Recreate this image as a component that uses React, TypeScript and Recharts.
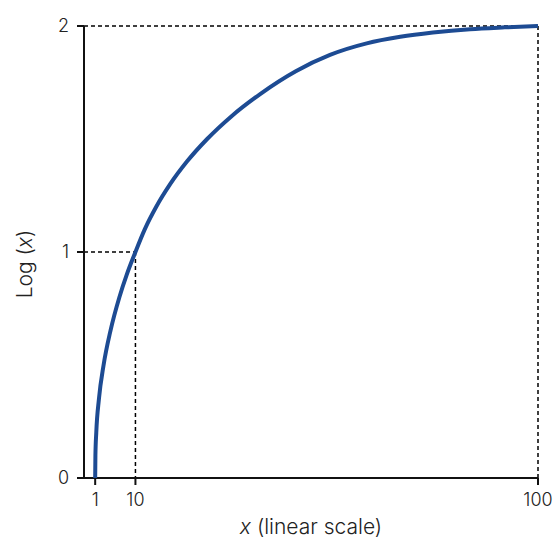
import { LineChart, Line, XAxis, YAxis, ReferenceLine, Label } from 'recharts'

// values
const xValues = [1, 1.05, 1.24, 1.84, 2.88, 4.4, 6.41, 8.06, 10, 12.08, 14.65, 17.76, 21.51, 26.03, 31.43, 37.96, 45.85, 53.5, 61.7, 69.2, 76.5, 84.8, 92.6, 100]
const logValues = [0, 0.1, 0.2, 0.35, 0.5, 0.65, 0.8, 0.9, 1, 1.1, 1.2, 1.3, 1.4, 1.5, 1.6, 1.7, 1.8, 1.872, 1.923, 1.952, 1.971, 1.986, 1.994, 2]
const xTicks = [1, 10, 100]
const yTicks = [0, 1, 2]

const data = xValues.map((x, i) => ({ x, y: logValues[i] }))

const font = 'Inter, "Noto Sans", sans-serif'
const axisStyle = { stroke: '#111', strokeWidth: 2 }
const dash = { stroke: '#000', strokeWidth: 1.5, strokeDasharray: '4 3' }

export default function App() {
  return (
    <div style={{ position: 'absolute', left: 0, top: 0, background: '#fff' }}>
      <LineChart
        width={553}
        height={539}
        data={data}
        margin={{ top: 26, right: 15, bottom: 11, left: 24 }}
      >
        <XAxis
          dataKey="x"
          type="number"
          domain={[-1.5, 100]}
          ticks={xTicks}
          axisLine={false}
          tickLine={axisStyle}
          tickSize={7}
          tickMargin={8}
          height={50}
          tick={{ fill: '#222', fontSize: 18, fontFamily: font, fontWeight: 300 }}
        >
          <Label
            content={() => (
              <text x={311} y={534} textAnchor="middle" fill="#222" fontSize={21} fontFamily={font} fontWeight={300}>
                <tspan fontStyle="italic">x</tspan> (linear scale)
              </text>
            )}
          />
        </XAxis>
        <YAxis
          type="number"
          domain={[0, 2]}
          ticks={yTicks}
          axisLine={axisStyle}
          tickLine={axisStyle}
          tickSize={7}
          tickMargin={8}
          width={60}
          tick={{ fill: '#222', fontSize: 18, fontFamily: font, fontWeight: 300 }}
        >
          <Label
            content={() => (
              <text
                x={24}
                y={264}
                textAnchor="middle"
                dominantBaseline="central"
                transform="rotate(-90 24 264)"
                fill="#222"
                fontSize={21}
                fontFamily={font}
                fontWeight={300}
              >
                Log (<tspan fontStyle="italic">x</tspan>)
              </text>
            )}
          />
        </YAxis>
        <ReferenceLine segment={[{ x: -1.5, y: 2 }, { x: 100, y: 2 }]} ifOverflow="visible" {...dash} />
        <ReferenceLine segment={[{ x: 100, y: 2 }, { x: 100, y: 0 }]} ifOverflow="visible" {...dash} />
        <ReferenceLine segment={[{ x: -1.5, y: 1 }, { x: 10, y: 1 }]} ifOverflow="visible" {...dash} />
        <ReferenceLine segment={[{ x: 10, y: 1 }, { x: 10, y: 0 }]} ifOverflow="visible" {...dash} />
        <ReferenceLine
          segment={[{ x: -3.06, y: 0 }, { x: 100, y: 0 }]}
          ifOverflow="visible"
          stroke="#111"
          strokeWidth={2}
        />
        <Line
          type="monotone"
          dataKey="y"
          stroke="#1d4b93"
          strokeWidth={4}
          dot={false}
          isAnimationActive={false}
        />
      </LineChart>
    </div>
  )
}
